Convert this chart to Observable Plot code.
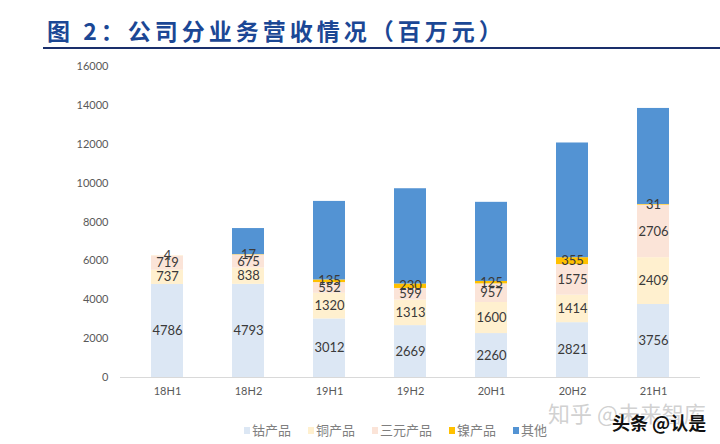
<!DOCTYPE html>
<html>
<head>
<meta charset="utf-8">
<script src="https://cdn.jsdelivr.net/npm/d3@7"></script>
<script src="https://cdn.jsdelivr.net/npm/@observablehq/plot@0.6"></script>
<style>
  html, body { margin: 0; padding: 0; background: #fff; }
  #wrap { position: relative; width: 720px; height: 444px; overflow: hidden; font-family: Lato, "Noto Sans CJK SC", sans-serif; }
  #title { position: absolute; left: 47px; top: 14px; font-family: "Noto Sans CJK SC", sans-serif; font-weight: 700; font-size: 23px; letter-spacing: 4px; color: #1b4795; line-height: 32px; white-space: nowrap; }
  #rule { position: absolute; left: 43px; right: 0; top: 47px; height: 2px; background: #1a2f6b; }
  #chart { position: absolute; left: 0; top: 50px; }
  #legend { position: absolute; left: 244px; top: 421px; display: flex; align-items: center; font-family: "Noto Sans CJK SC", sans-serif; font-size: 13px; color: #7f7f7f; line-height: 18px; }
  #legend .item { display: flex; align-items: center; margin-right: 17px; }
  #legend .sw { width: 6px; height: 7px; margin-right: 2px; }
  .wm1 { position: absolute; left: 548px; top: 396px; font-family: "Noto Sans CJK SC", sans-serif; font-size: 22px; color: rgba(170,170,170,0.55); white-space: nowrap; }
  .wm2 { position: absolute; left: 612px; top: 409px; font-family: "Noto Sans CJK SC", sans-serif; font-size: 18px; font-weight: 700; color: #111; white-space: nowrap; text-shadow: 0 0 2px #fff, 0 0 2px #fff; }
</style>
</head>
<body>
<div id="wrap">
  <div id="title">图 2：公司分业务营收情况（百万元）</div>
  <div id="rule"></div>
  <div id="chart"></div>
  <div id="legend"></div>
  <div class="wm1">知乎 @未来智库</div>
  <div class="wm2">头条 @认是</div>
</div>
<script>
const periods = ["18H1", "18H2", "19H1", "19H2", "20H1", "20H2", "21H1"];
const seriesNames = ["钴产品", "铜产品", "三元产品", "镍产品", "其他"];
const cobalt = [4786, 4793, 3012, 2669, 2260, 2821, 3756];
const copper = [737, 838, 1320, 1313, 1600, 1414, 2409];
const ternary = [719, 675, 552, 599, 957, 1575, 2706];
const nickel = [4, 17, 135, 230, 125, 355, 31];
const other = [0, 1340, 4040, 4900, 4070, 5900, 4940];
const yTicks = [0, 2000, 4000, 6000, 8000, 10000, 12000, 14000, 16000];
const colors = ["#dce7f4", "#fff0cf", "#fbe4d8", "#ffc000", "#5393d3"];

const seriesValues = [cobalt, copper, ternary, nickel, other];
const data = [];
seriesNames.forEach((s, si) => {
  periods.forEach((p, pi) => {
    data.push({period: p, series: s, value: seriesValues[si][pi]});
  });
});

const chart = Plot.plot({
  width: 720,
  height: 362,
  marginLeft: 120,
  marginRight: 20,
  marginTop: 16,
  marginBottom: 35,
  style: {fontFamily: "Lato, sans-serif", fontSize: "11px", color: "#595959", background: "transparent"},
  x: {domain: periods, paddingInner: 0.6, paddingOuter: 0.35, label: null},
  y: {domain: [0, 16000], label: null},
  color: {domain: seriesNames, range: colors},
  marks: [
    Plot.barY(data, {x: "period", y: "value", fill: "series", z: "series", order: seriesNames}),
    Plot.ruleY([0], {stroke: "#d9d9d9", strokeWidth: 1}),
    Plot.axisY({ticks: yTicks, tickSize: 0, tickPadding: 12, tickFormat: d => String(d), fill: "#595959", fontSize: 11, label: null}),
    Plot.axisX({tickSize: 0, tickPadding: 10, fill: "#595959", fontSize: 11, label: null}),
    Plot.text(data, Plot.stackY({
      x: "period", y: "value", z: "series", order: seriesNames,
      text: d => d.series === "其他" ? "" : String(d.value),
      fill: "#3a3a3a", fontSize: 13, fontFamily: "Lato, sans-serif"
    }))
  ]
});
document.getElementById("chart").appendChild(chart);

const legend = document.getElementById("legend");
seriesNames.forEach((s, i) => {
  const it = document.createElement("div");
  it.className = "item";
  const sw = document.createElement("span");
  sw.className = "sw";
  sw.style.background = colors[i];
  const tx = document.createElement("span");
  tx.textContent = s;
  it.appendChild(sw); it.appendChild(tx);
  legend.appendChild(it);
});
</script>
</body>
</html>
